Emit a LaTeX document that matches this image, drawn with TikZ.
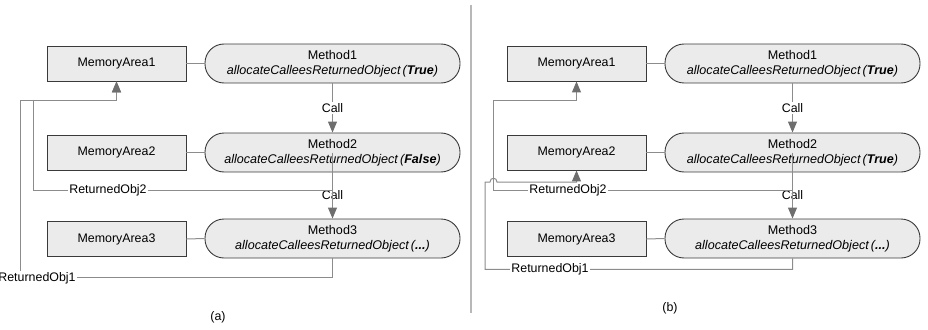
\documentclass[tikz,border=0pt]{standalone}
\usepackage{fontspec}
\setmainfont{Liberation Sans}
\usetikzlibrary{arrows.meta}

\definecolor{boxfill}{HTML}{EBEBEB}
\definecolor{boxline}{HTML}{3A3A3A}
\definecolor{wirecol}{HTML}{8C8C8C}
\definecolor{tipcol}{HTML}{6E6E6E}
\definecolor{dividercol}{HTML}{B8B8B8}

\tikzset{
  memarea/.style={draw=boxline, fill=boxfill, line width=0.9pt,
    minimum width=139pt, minimum height=35pt, inner sep=1pt,
    font=\fontsize{12.4}{14}\selectfont},
  method/.style={draw=boxline, fill=boxfill, line width=0.9pt,
    rounded corners=19pt, minimum width=255pt, minimum height=39pt,
    align=center, inner sep=1pt, font=\fontsize{12.6}{15.5}\selectfont},
  wire/.style={draw=wirecol, line width=1pt},
  arrowwire/.style={wire, -{Triangle[width=9pt,length=11pt,color=tipcol]}},
  calllabel/.style={fill=white, inner sep=1pt, font=\fontsize{12.4}{14}\selectfont},
  objlabel/.style={fill=white, inner sep=1pt, font=\fontsize{12.4}{14}\selectfont},
  caption/.style={font=\fontsize{12.4}{14}\selectfont},
}

\begin{document}
\begin{tikzpicture}[x=1pt, y=-1pt]
\useasboundingbox (0,0) rectangle (928,329);

% separator between the two variants
\draw[dividercol, line width=2pt] (471,5) -- (471,313);

% ---------- variant (a) ----------
\node[memarea] (ama1) at (116.5,63.5) {MemoryArea1};
\node[memarea] (ama2) at (116.5,152.5) {MemoryArea2};
\node[memarea] (ama3) at (116.5,239) {MemoryArea3};
\node[method] (am1) at (332.5,63.5) {Method1\\\textit{allocateCalleesReturnedObject\,(\textbf{True})}};
\node[method] (am2) at (332.5,152.5) {Method2\\\textit{allocateCalleesReturnedObject\,(\textbf{False})}};
\node[method] (am3) at (332.5,238.5) {Method3\\\textit{allocateCalleesReturnedObject\,(\textbf{...})}};

\draw[wire] (ama1.east) -- (am1.west);
\draw[wire] (ama2.east) -- (am2.west);
\draw[wire] (ama3.east) -- (am3.west);

\draw[arrowwire] (am1.south) -- node[calllabel] (acall1) {Call} (am2.north);
\path (am2.south) -- node[calllabel] (acall2) {Call} (am3.north);
\draw[arrowwire] (am2.center) -- (am3.north);

\draw[arrowwire] (am2.south) -- ++(0,18) -| (33,100) -| (ama1.south);
\draw[arrowwire] (am3.south) -- ++(0,19) -| (20,100) -| (ama1.south);
\node[objlabel] (aret2) at (108,190) {ReturnedObj2};
\node[objlabel] (aret1) at (37,278) {ReturnedObj1};

\node[caption] (capa) at (218,317) {(a)};

% ---------- variant (b) ----------
\node[memarea] (bma1) at (576.5,63.5) {MemoryArea1};
\node[memarea] (bma2) at (576.5,152.5) {MemoryArea2};
\node[memarea] (bma3) at (576.5,239) {MemoryArea3};
\node[method] (bm1) at (792.5,63.5) {Method1\\\textit{allocateCalleesReturnedObject\,(\textbf{True})}};
\node[method] (bm2) at (792.5,152.5) {Method2\\\textit{allocateCalleesReturnedObject\,(\textbf{True})}};
\node[method] (bm3) at (792.5,238.5) {Method3\\\textit{allocateCalleesReturnedObject\,(\textbf{...})}};

\draw[wire] (bma1.east) -- (bm1.west);
\draw[wire] (bma2.east) -- (bm2.west);
\draw[wire] (bma3.east) -- (bm3.west);

\draw[arrowwire] (bm1.south) -- node[calllabel] (bcall1) {Call} (bm2.north);
\path (bm2.south) -- node[calllabel] (bcall2) {Call} (bm3.north);
\draw[arrowwire] (bm2.center) -- (bm3.north);

\draw[arrowwire] (bm2.south) -- ++(0,18) -| (493,100) -| (bma1.south);
% the lower return line hops over the upper one
\draw[arrowwire] (bm3.south) -- ++(0,11) -| (485,182) -- (490,182)
  .. controls (490,177) and (497,177) .. (497,182) -| (bma2.south);
\node[objlabel] (bret2) at (568,190) {ReturnedObj2};
\node[objlabel] (bret1) at (550,269) {ReturnedObj1};

\node[caption] (capb) at (670,308) {(b)};
\end{tikzpicture}
\end{document}
